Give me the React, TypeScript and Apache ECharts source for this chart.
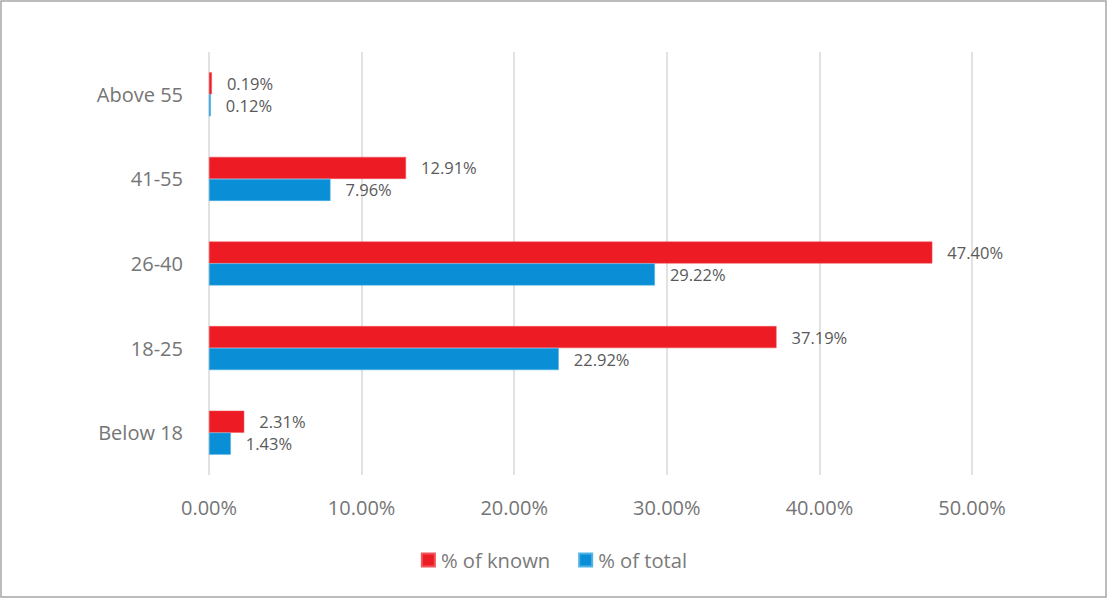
import React, { useEffect, useRef } from "react";
import * as echarts from "echarts";

const categories = ["Below 18", "18-25", "26-40", "41-55", "Above 55"];
const pctOfKnown = [2.31, 37.19, 47.4, 12.91, 0.19];
const pctOfTotal = [1.43, 22.92, 29.22, 7.96, 0.12];
const seriesNames = ["% of known", "% of total"];

const FONT = "'Open Sans', 'Noto Sans', sans-serif";

export default function App() {
  const ref = useRef<HTMLDivElement>(null);
  useEffect(() => {
    document.body.style.margin = "0";
    const chart = echarts.init(ref.current!, null, { renderer: "svg" });
    const label = {
      show: true,
      position: "right",
      distance: 15,
      color: "#595959",
      fontSize: 16.5,
      fontFamily: FONT,
      formatter: (p: any) => p.value.toFixed(2) + "%",
    };
    chart.setOption({
      animation: false,
      backgroundColor: "#ffffff",
      textStyle: { fontFamily: FONT },
      graphic: [
        {
          type: "rect",
          shape: { x: 1, y: 1, width: 1105, height: 596 },
          style: { fill: "none", stroke: "#a6a6a6", lineWidth: 1.5 },
          silent: true,
        },
      ],
      legend: {
        data: seriesNames,
        bottom: 24,
        left: "center",
        itemWidth: 13,
        itemHeight: 13,
        itemGap: 28,
        icon: "rect",
        textStyle: { color: "#7a7a7a", fontSize: 20.2, fontFamily: FONT, padding: [0, 0, 0, 1] },
      },
      grid: { left: 209, right: 136, top: 52, bottom: 124 },
      xAxis: {
        type: "value",
        min: 0,
        max: 50,
        interval: 10,
        axisLine: { show: false },
        axisTick: { show: false },
        splitLine: { show: true, lineStyle: { color: "#d9d9d9", width: 1.5 } },
        axisLabel: {
          color: "#757575",
          fontSize: 20,
          fontFamily: FONT,
          margin: 22,
          formatter: (v: number) => v.toFixed(2) + "%",
        },
      },
      yAxis: {
        type: "category",
        data: categories,
        axisLine: { show: false },
        axisTick: { show: false },
        axisLabel: { color: "#757575", fontSize: 20, fontFamily: FONT, margin: 26 },
      },
      series: [
        {
          name: seriesNames[0],
          type: "bar",
          data: pctOfKnown,
          barWidth: 22,
          barGap: "0%",
          itemStyle: { color: "#ED1C24", borderColor: "#f0555b", borderWidth: 0.5 },
          label,
        },
        {
          name: seriesNames[1],
          type: "bar",
          data: pctOfTotal,
          barWidth: 22,
          barGap: "0%",
          itemStyle: { color: "#0A8FD7", borderColor: "#4fb3e6", borderWidth: 0.5 },
          label,
        },
      ],
    });
    return () => chart.dispose();
  }, []);
  return (
    <div
      ref={ref}
      style={{ position: "fixed", left: 0, top: 0, width: 1108, height: 599 }}
    />
  );
}
